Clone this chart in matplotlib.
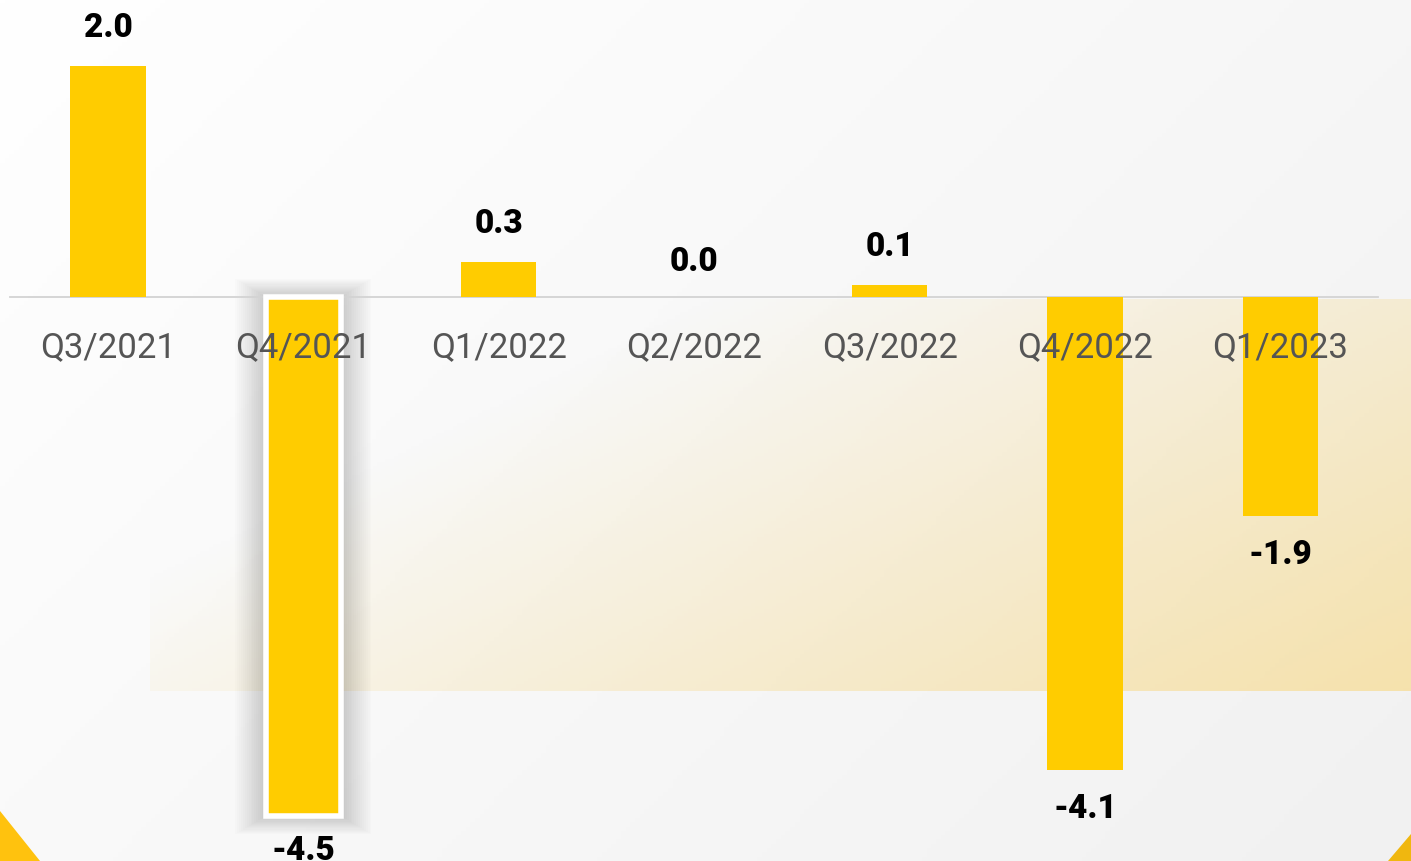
import numpy as np
import matplotlib.pyplot as plt
from matplotlib.patches import Rectangle, Polygon

quarters = ["Q3/2021", "Q4/2021", "Q1/2022", "Q2/2022", "Q3/2022", "Q4/2022", "Q1/2023"]
values = [2.0, -4.5, 0.3, 0.0, 0.1, -4.1, -1.9]
labels = ["2.0", "-4.5", "0.3", "0.0", "0.1", "-4.1", "-1.9"]
highlight = 1

W, H = 1411, 862
fig = plt.figure(figsize=(W / 100, H / 100), dpi=100)

# background gradient
bg = fig.add_axes([0, 0, 1, 1], zorder=0)
yy, xx = np.mgrid[0:H:200j, 0:W:300j]
t = np.clip((xx + yy) / (W + H), 0, 1)
top = np.array([1.0, 1.0, 1.0])
bot = np.array([0.945, 0.945, 0.945])
img = top[None, None, :] * (1 - t[..., None]) + bot[None, None, :] * t[..., None]
bg.imshow(img, extent=[0, W, H, 0], aspect="auto")
# yellow band, diagonal fade
yy2, xx2 = np.mgrid[300:692:120j, 150:W:300j]
u = xx2 + 2 * (yy2 - 300)
a = np.clip((u - 700) / 1495, 0, 1)
band = np.zeros((120, 300, 4))
band[..., 0] = 0.965
band[..., 1] = 0.875
band[..., 2] = 0.63
band[..., 3] = a * 0.85
bg.imshow(band, extent=[150, W, 692, 300], aspect="auto")
bg.add_patch(Polygon([[0, 812], [40, 862], [0, 862]], closed=True, color="#ffc20e", lw=0))
bg.add_patch(Polygon([[W, 835], [W, 862], [1388, 862]], closed=True, color="#f0b70f", lw=0))
bg.set_xlim(0, W)
bg.set_ylim(H, 0)
bg.axis("off")

ax = fig.add_axes([0, 0, 1, 1], zorder=1)
ax.patch.set_alpha(0)
step = 195.4
x0 = -108 / step
ax.set_xlim(x0, x0 + W / step)
ppu = 115.3
ax.set_ylim(-(H - 298) / ppu, 298 / ppu)
ax.axis("off")

bw = 0.385
# shadow for highlighted bar
v = values[highlight]
for k in range(16):
    pad = (16 - k) * 1.9
    ax.add_patch(Rectangle((highlight - bw / 2 - pad / step, v - pad / ppu * 0.6),
                           bw + 2 * pad / step, -v + 2 * pad / ppu * 0.6,
                           color="black", alpha=0.011, lw=0, zorder=1))

ax.plot([x0 + 10 / step, x0 + 1378 / step], [0, 0], color="#d3d3d3", lw=1.3, zorder=2)

for i, val in enumerate(values):
    if i == highlight:
        ax.bar(i, val, width=bw, color="#ffcc00", edgecolor="white", linewidth=4, zorder=3)
    else:
        ax.bar(i, val, width=bw, color="#ffcc00", zorder=3)

for i, val in enumerate(values):
    if val > 0:
        off = 39
    elif val == 0:
        off = 36
    elif i == highlight:
        off = -34
    else:
        off = -38
    ax.annotate(labels[i], (i, val), xytext=(0, off * 0.72), textcoords="offset points",
                ha="center", va="center", fontsize=24, fontweight="black",
                family="Roboto", color="black", zorder=5)
    ax.annotate(quarters[i], (i, 0), xytext=(0, -50 * 0.72), textcoords="offset points",
                ha="center", va="center", fontsize=25, family="Roboto",
                color="#555555", zorder=4)

fig.savefig("out.png", dpi=100)
